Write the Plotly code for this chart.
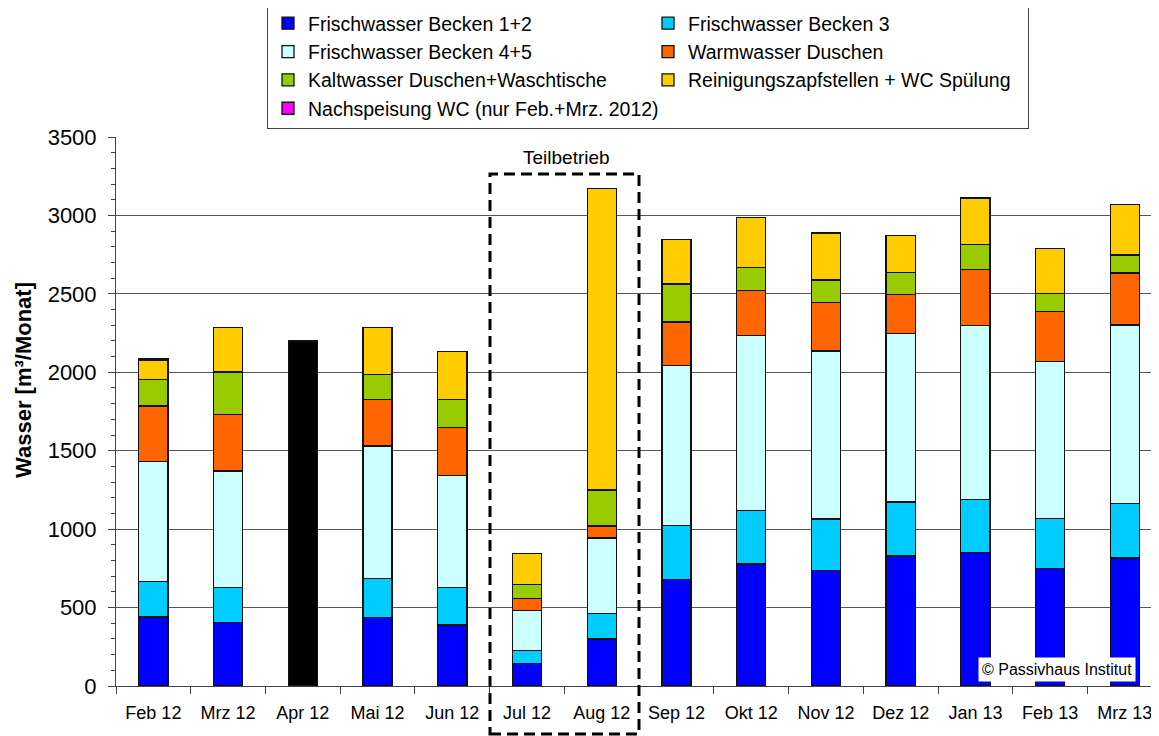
import plotly.graph_objects as go

months = ["Feb 12", "Mrz 12", "Apr 12", "Mai 12", "Jun 12", "Jul 12", "Aug 12",
          "Sep 12", "Okt 12", "Nov 12", "Dez 12", "Jan 13", "Feb 13", "Mrz 13"]

becken_12 = [440, 403, None, 435, 388, 143, 300, 680, 778, 735, 829, 850, 748, 816]
becken_3 = [225, 223, None, 251, 238, 82, 161, 344, 340, 330, 344, 340, 319, 349]
becken_45 = [768, 745, None, 845, 718, 256, 483, 1020, 1117, 1071, 1075, 1107, 1001, 1136]
warm_duschen = [352, 359, None, 295, 303, 77, 77, 276, 285, 308, 247, 359, 318, 332]
kalt_duschen = [170, 272, None, 159, 178, 90, 228, 243, 149, 144, 140, 157, 115, 115]
reinigung_wc = [121, 283, None, 300, 308, 198, 1923, 282, 319, 300, 236, 298, 287, 320]
nachspeisung_wc = [9, 0, None, None, None, None, None, None, None, None, None, None, None, None]
gesamt_apr = [None, None, 2200, None, None, None, None, None, None, None, None, None, None, None]

series = [
    ("Frischwasser Becken 1+2", becken_12, "#0000FF"),
    ("Frischwasser Becken 3", becken_3, "#00CCFF"),
    ("Frischwasser Becken 4+5", becken_45, "#CCFFFF"),
    ("Warmwasser Duschen", warm_duschen, "#FF6600"),
    ("Kaltwasser Duschen+Waschtische", kalt_duschen, "#99CC00"),
    ("Reinigungszapfstellen + WC Spülung", reinigung_wc, "#FFCC00"),
    ("Nachspeisung WC (nur Feb.+Mrz. 2012)", nachspeisung_wc, "#FF00FF"),
]

FONT = "Liberation Sans, Arial, sans-serif"

# page offset (HTML body margin) and pixel geometry helpers
O = 8
W, H = 1151, 728
L, R, T, B = 116 - O, 2, 137 - O, 50
PW = W - L - R
PH = H - T - B


def px(x):
    return (x - O - L) / PW


def py(y):
    return (H - B - (y - O)) / PH


fig = go.Figure()
for name, vals, col in series:
    fig.add_trace(go.Bar(
        x=months, y=vals, name=name,
        marker=dict(color=col, line=dict(color="#111111", width=1.3)),
        width=0.39,
    ))
fig.add_trace(go.Bar(
    x=months, y=gesamt_apr, name="Gesamt", showlegend=False,
    marker=dict(color="#000000", line=dict(color="#111111", width=1.3)),
    width=0.39,
))

fig.update_layout(
    width=W, height=H,
    margin=dict(l=L, r=R, t=T, b=B, autoexpand=False),
    barmode="stack",
    plot_bgcolor="white", paper_bgcolor="white",
    font=dict(family=FONT, color="#000000"),
    legend=dict(
        orientation="h", traceorder="normal",
        x=px(267), y=py(3), xanchor="left", yanchor="top",
        bgcolor="white", bordercolor="#444444", borderwidth=1,
        font=dict(size=19.5, family=FONT),
        entrywidth=335, entrywidthmode="pixels",
        itemwidth=30,
    ),
    xaxis=dict(
        range=[-0.5, 13.43],
        tickson="boundaries", ticks="outside", ticklen=7, tickcolor="#444444",
        showline=True, linecolor="#444444", linewidth=1,
        showgrid=False,
        tickfont=dict(size=18, family=FONT),
        ticklabelstandoff=10,
        automargin=False,
    ),
    yaxis=dict(
        range=[0, 3500], dtick=500,
        ticks="outside", ticklen=7, tickcolor="#444444",
        minor=dict(dtick=100, ticks="outside", ticklen=4, tickcolor="#444444", showgrid=False),
        showline=True, linecolor="#444444", linewidth=1,
        showgrid=True, gridcolor="#555555", gridwidth=1,
        tickfont=dict(size=22, family=FONT),
        ticklabelstandoff=7,
        automargin=False,
    ),
)

fig.add_shape(type="rect", xref="paper", yref="paper",
              x0=px(490), x1=px(639), y0=py(734), y1=py(174),
              line=dict(color="#000000", width=3, dash="11px,6px"),
              fillcolor="rgba(0,0,0,0)")

fig.add_annotation(text="Teilbetrieb", xref="paper", yref="paper",
                   x=px(566), y=py(157), xanchor="center", yanchor="middle",
                   showarrow=False, font=dict(size=19, family=FONT))

fig.add_annotation(text="© Passivhaus Institut", xref="paper", yref="paper",
                   x=px(1057), y=py(669), xanchor="center", yanchor="middle",
                   showarrow=False, bgcolor="white", borderpad=3,
                   font=dict(size=16, family=FONT))

fig.add_annotation(text="<b>Wasser [m³/Monat]</b>", xref="paper", yref="paper",
                   x=px(23), y=py(380), xanchor="center", yanchor="middle",
                   textangle=-90, showarrow=False,
                   font=dict(size=22, family=FONT))

fig.write_html("out.html")
